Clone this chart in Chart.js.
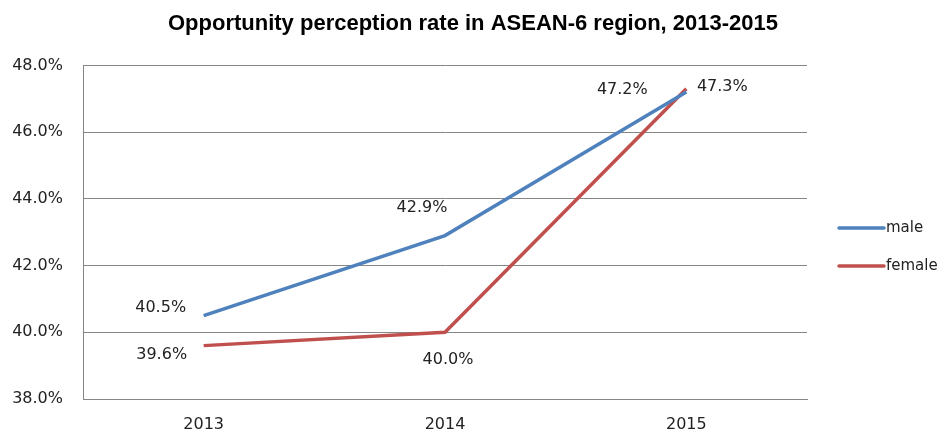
<!DOCTYPE html>
<html>
<head>
<meta charset="utf-8">
<script src="https://cdn.jsdelivr.net/npm/chart.js@4/dist/chart.umd.min.js"></script>
<style>
  html, body { margin: 0; padding: 0; background: #fff; }
  #wrap { width: 946px; height: 436px; }
</style>
</head>
<body>
<div id="wrap"><canvas id="chart"></canvas></div>
<script>
const years = ['2013', '2014', '2015'];
const male = [40.5, 42.9, 47.2];
const female = [39.6, 40.0, 47.3];
const seriesNames = ['male', 'female'];

// label placement around each point: [dx, dy] per dataset / index
const labelOffsets = [
    [[-43, -8], [-23, -28], [-64, -2]],
    [[-42, 9], [3, 28], [36, -2]],
];

const valueLabels = {
    id: 'valueLabels',
    afterDatasetsDraw(chart) {
        const ctx = chart.ctx;
        ctx.save();
        ctx.font = '16px "DejaVu Sans"';
        ctx.fillStyle = '#222';
        ctx.textAlign = 'center';
        ctx.textBaseline = 'middle';
        chart.data.datasets.forEach((ds, i) => {
            chart.getDatasetMeta(i).data.forEach((pt, j) => {
                const off = labelOffsets[i][j];
                ctx.fillText(ds.data[j].toFixed(1) + '%', pt.x + off[0], pt.y + off[1]);
            });
        });
        ctx.restore();
    },
};

const sideLegend = {
    id: 'sideLegend',
    afterDraw(chart) {
        const ctx = chart.ctx;
        ctx.save();
        ctx.font = '15px "DejaVu Sans"';
        ctx.textBaseline = 'middle';
        chart.data.datasets.forEach((ds, i) => {
            const y = 228 + i * 38;
            ctx.strokeStyle = ds.borderColor;
            ctx.lineWidth = 3.5;
            ctx.lineCap = 'round';
            ctx.beginPath();
            ctx.moveTo(839, y);
            ctx.lineTo(884, y);
            ctx.stroke();
            ctx.fillStyle = '#222';
            ctx.fillText(ds.label, 886, y);
        });
        ctx.restore();
    },
};

new Chart(document.getElementById('chart'), {
    type: 'line',
    data: {
        labels: years,
        datasets: [
            {
                label: seriesNames[0],
                data: male,
                borderColor: '#4F81BD',
                borderWidth: 3.5,
                pointRadius: 0,
                tension: 0,
            },
            {
                label: seriesNames[1],
                data: female,
                borderColor: '#C0504D',
                borderWidth: 3.5,
                pointRadius: 0,
                tension: 0,
            },
        ],
    },
    options: {
        responsive: true,
        maintainAspectRatio: false,
        animation: false,
        layout: { padding: 0 },
        plugins: {
            legend: { display: false },
            tooltip: { enabled: false },
            title: {
                display: true,
                text: 'Opportunity perception rate in ASEAN-6 region, 2013-2015',
                color: '#000',
                font: { family: '"Liberation Sans"', size: 22, weight: 'bold' },
                padding: { top: 11, bottom: 28 },
            },
        },
        scales: {
            x: {
                offset: true,
                grid: { display: false },
                border: { color: '#868686', width: 1 },
                ticks: { color: '#222', font: { family: '"DejaVu Sans"', size: 16 }, padding: 8 },
                afterFit: (s) => { s.height = 37; },
            },
            y: {
                min: 38,
                max: 48,
                ticks: {
                    stepSize: 2,
                    color: '#222',
                    font: { family: '"DejaVu Sans"', size: 16 },
                    padding: 20,
                    callback: (v) => v.toFixed(1) + '%',
                },
                grid: { color: '#868686', drawTicks: false },
                border: { color: '#868686', width: 1 },
                afterFit: (s) => { s.width = 83; },
            },
            // empty right-hand axis that keeps room for the legend
            legendSpace: {
                position: 'right',
                ticks: { display: false },
                grid: { display: false },
                border: { display: false },
                afterFit: (s) => { s.width = 139; },
            },
        },
    },
    plugins: [valueLabels, sideLegend],
});
</script>
</body>
</html>
